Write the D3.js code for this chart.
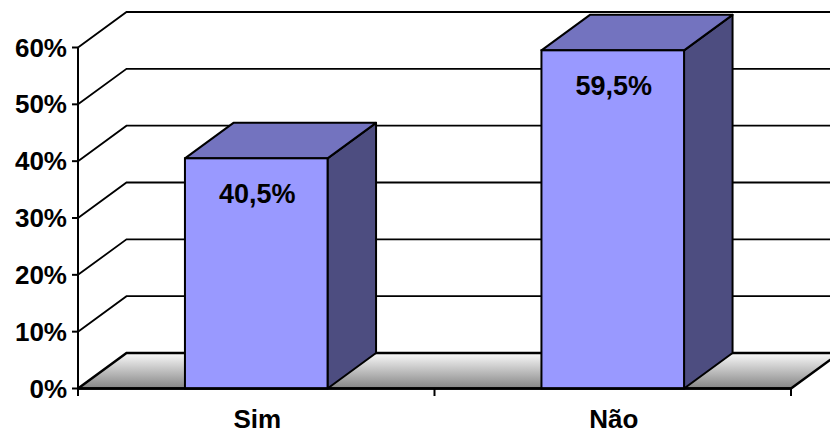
<!DOCTYPE html>
<html>
<head>
<meta charset="utf-8">
<script src="https://cdn.jsdelivr.net/npm/d3@7"></script>
<style>
  html, body { margin: 0; padding: 0; background: #fff; }
  svg { display: block; }
  text { font-family: "Liberation Sans", Arial, sans-serif; font-weight: bold; fill: #000; }
</style>
</head>
<body>
<svg id="chart" width="830" height="435"></svg>
<script>
// Data
const categories = ["Sim", "Não"];
const values = [0.405, 0.595];
const valueLabels = ["40,5%", "59,5%"];
const tickValues = [0, 0.1, 0.2, 0.3, 0.4, 0.5, 0.6];

(function () {
  const W = 830;
  const svg = d3.select("#chart");

  // Plot frame (front plane) and 3D depth offset
  const plotLeft = 78, plotRight = 791, plotBottom = 388.5, plotTop = 47.5;
  const dx = 48.5, dy = -35.5;

  const y = d3.scaleLinear().domain([0, 0.6]).range([plotBottom, plotTop]);
  const x = d3.scaleBand().domain(categories).range([plotLeft, plotRight])
    .paddingInner(0.6).paddingOuter(0.3);

  const fmtPct = d3.format(".0%");

  // Floor gradient
  const defs = svg.append("defs");
  const grad = defs.append("linearGradient")
    .attr("id", "floorGrad").attr("x1", 0).attr("y1", 0).attr("x2", 0).attr("y2", 1);
  grad.append("stop").attr("offset", "0%").attr("stop-color", "#fafafa");
  grad.append("stop").attr("offset", "100%").attr("stop-color", "#858585");

  // Floor
  svg.append("path")
    .attr("d", `M${plotLeft},${y(0)} L${plotLeft + dx},${y(0) + dy} L${plotRight + dx},${y(0) + dy} L${plotRight},${y(0)} Z`)
    .attr("fill", "url(#floorGrad)");

  // Gridlines: side-wall diagonal plus back-wall horizontal
  svg.append("g").selectAll("path").data(tickValues).join("path")
    .attr("d", v => `M${plotLeft},${y(v)} L${plotLeft + dx},${y(v) + dy} L${W + 5},${y(v) + dy}`)
    .attr("fill", "none").attr("stroke", "#000")
    .attr("stroke-width", v => v === 0 ? 2.5 : 1.8)
    .attr("stroke-linejoin", "miter");

  // Floor front and right edges
  svg.append("path")
    .attr("d", `M${plotLeft},${y(0)} L${plotRight},${y(0)} L${plotRight + dx},${y(0) + dy}`)
    .attr("fill", "none").attr("stroke", "#000").attr("stroke-width", 2.5);

  // Bars
  const bars = svg.append("g").selectAll("g").data(categories).join("g");
  bars.each(function (c, i) {
    const g = d3.select(this);
    const x0 = x(c), x1 = x(c) + x.bandwidth();
    const yt = y(values[i]), yb = y(0);
    // side
    g.append("path")
      .attr("d", `M${x1},${yt} L${x1 + dx},${yt + dy} L${x1 + dx},${yb + dy} L${x1},${yb} Z`)
      .attr("fill", "#4d4d80").attr("stroke", "#000").attr("stroke-width", 2).attr("stroke-linejoin", "round");
    // top
    g.append("path")
      .attr("d", `M${x0},${yt} L${x0 + dx},${yt + dy} L${x1 + dx},${yt + dy} L${x1},${yt} Z`)
      .attr("fill", "#7373bf").attr("stroke", "#000").attr("stroke-width", 2).attr("stroke-linejoin", "round");
    // front
    g.append("rect")
      .attr("x", x0).attr("y", yt).attr("width", x1 - x0).attr("height", yb - yt)
      .attr("fill", "#9999ff").attr("stroke", "#000").attr("stroke-width", 2);
    // value label
    g.append("text")
      .attr("x", (x0 + x1) / 2 + 1).attr("y", yt + 45)
      .attr("text-anchor", "middle").attr("font-size", 27)
      .text(valueLabels[i]);
  });

  // Floor front edge over bar bottoms
  svg.append("line")
    .attr("x1", plotLeft).attr("x2", plotRight).attr("y1", y(0)).attr("y2", y(0))
    .attr("stroke", "#000").attr("stroke-width", 2.5);

  // Y axis
  const yAxis = svg.append("g");
  yAxis.append("line")
    .attr("x1", plotLeft).attr("x2", plotLeft).attr("y1", y(0.6)).attr("y2", y(0) + 7.5)
    .attr("stroke", "#000").attr("stroke-width", 2);
  yAxis.selectAll(".tick").data(tickValues).join("line")
    .attr("x1", plotLeft - 6).attr("x2", plotLeft).attr("y1", d => y(d)).attr("y2", d => y(d))
    .attr("stroke", "#000").attr("stroke-width", 2);
  yAxis.selectAll("text").data(tickValues).join("text")
    .attr("x", plotLeft - 11).attr("y", d => y(d) + 9)
    .attr("text-anchor", "end").attr("font-size", 26)
    .text(d => fmtPct(d));

  // X axis ticks at category boundaries
  const bounds = [plotLeft, (plotLeft + plotRight) / 2, plotRight];
  svg.append("g").selectAll("line").data(bounds).join("line")
    .attr("x1", d => d).attr("x2", d => d).attr("y1", y(0)).attr("y2", y(0) + 7.5)
    .attr("stroke", "#000").attr("stroke-width", 2);

  // Category labels
  svg.append("g").selectAll("text").data(categories).join("text")
    .attr("x", c => x(c) + x.bandwidth() / 2 + 1).attr("y", 428)
    .attr("text-anchor", "middle").attr("font-size", 26)
    .text(c => c);
})();
</script>
</body>
</html>
